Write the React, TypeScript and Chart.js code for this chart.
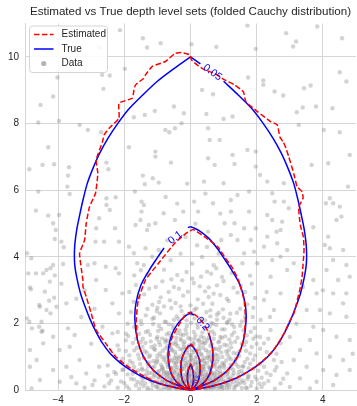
import { useEffect, useRef } from "react";
import { Chart, registerables } from "chart.js";

Chart.register(...registerables);

type Pt = [number, number];

const TITLE = "Estimated vs True depth level sets (folded Cauchy distribution)";
const X_RANGE: Pt = [-5, 5];
const Y_RANGE: Pt = [0, 11];
const xTickValues = [-4, -2, 0, 2, 4];
const yTickValues = [0, 2, 4, 6, 8, 10];

// True level sets: right half, from the origin up to the cusp (left half is its mirror image)
const trueLevel005: Pt[] = [
  [0, 0], [0.57, 0.11], [1.0, 0.22], [1.4, 0.38], [1.8, 0.6], [2.15, 0.85], [2.42, 1.1],
  [2.65, 1.4], [2.85, 1.75], [3.02, 2.1], [3.18, 2.5], [3.32, 2.9], [3.43, 3.35], [3.5, 3.8],
  [3.5, 4.3], [3.44, 4.8], [3.36, 5.2], [3.25, 5.7], [3.12, 6.2], [2.95, 6.65], [2.75, 7.1],
  [2.5, 7.55], [2.2, 8.0], [1.85, 8.45], [1.45, 8.85], [1.0, 9.27], [0.5, 9.65], [0.3, 9.79], [0, 10.0],
];
const trueLevel01: Pt[] = [
  [0, 0], [0.33, 0.13], [0.73, 0.31], [1.13, 0.61], [1.42, 1.01], [1.6, 1.5], [1.68, 2.1],
  [1.65, 2.6], [1.5, 3.15], [1.25, 3.6], [1.0, 3.98], [0.8, 4.27], [0.53, 4.58], [0.25, 4.8],
  [0.08, 4.88], [0, 4.91],
];
const trueLevel02: Pt[] = [
  [0, 0], [0.2, 0.08], [0.42, 0.25], [0.58, 0.5], [0.67, 0.9], [0.66, 1.3], [0.55, 1.71],
  [0.4, 1.98], [0.25, 2.15], [0.12, 2.26], [0, 2.31],
];
const trueLevel03: Pt[] = [
  [0, 0], [0.12, 0.1], [0.24, 0.3], [0.29, 0.6], [0.27, 0.9], [0.18, 1.15], [0.08, 1.3], [0, 1.36],
];
const trueLevel05: Pt[] = [
  [0, 0], [0.05, 0.1], [0.09, 0.3], [0.085, 0.5], [0.045, 0.68], [0, 0.76],
];

// Estimated level sets: closed outlines, right side first
const estLevel005: Pt[] = [
  [0, 0], [0.55, 0.1], [1.0, 0.23], [1.45, 0.4], [1.85, 0.63], [2.2, 0.9], [2.5, 1.2], [2.7, 1.5],
  [2.85, 1.75], [2.98, 2.05], [3.12, 2.3], [3.2, 2.6], [3.3, 3.0], [3.37, 3.4], [3.41, 3.9],
  [3.43, 4.2], [3.41, 4.6], [3.33, 4.9], [3.3, 5.1], [3.27, 5.5], [3.4, 5.76], [3.37, 5.96],
  [3.22, 6.11], [3.12, 6.5], [2.97, 7.0], [2.87, 7.3], [2.8, 7.45], [2.7, 7.6], [2.62, 7.96],
  [2.42, 8.06], [2.02, 8.36], [1.67, 8.66], [1.6, 8.95], [1.33, 9.16], [1.03, 9.31], [0.73, 9.5],
  [0.43, 9.61], [0.2, 9.76], [0.03, 9.91], [-0.02, 10.06], [-0.27, 10.13], [-0.47, 10.1],
  [-0.76, 9.86], [-1.16, 9.71], [-1.36, 9.46], [-1.41, 9.36], [-1.66, 9.16], [-1.71, 9.0],
  [-1.76, 8.76], [-2.16, 8.61], [-2.16, 8.16], [-2.46, 7.86], [-2.61, 7.66], [-2.66, 7.45],
  [-2.85, 6.91], [-2.8, 6.51], [-2.87, 5.91], [-3.05, 5.51], [-3.15, 5.01], [-3.2, 4.51],
  [-3.35, 4.11], [-3.3, 3.66], [-3.25, 3.3], [-3.25, 3.11], [-3.15, 2.81], [-3.0, 2.31],
  [-2.85, 1.81], [-2.56, 1.41], [-2.26, 1.01], [-1.8, 0.65], [-1.36, 0.4], [-0.9, 0.2],
  [-0.45, 0.08], [0, 0],
];
const estLevel01: Pt[] = [
  [0, 0], [0.33, 0.12], [0.73, 0.3], [1.12, 0.6], [1.42, 1.0], [1.6, 1.5], [1.66, 2.1],
  [1.62, 2.7], [1.45, 3.3], [1.25, 3.7], [1.03, 4.0], [0.83, 4.3], [0.43, 4.6], [0.08, 4.82],
  [-0.12, 4.72], [-0.47, 4.42], [-0.96, 3.82], [-1.36, 3.31], [-1.58, 2.7], [-1.64, 2.1],
  [-1.6, 1.5], [-1.42, 1.0], [-1.12, 0.6], [-0.73, 0.3], [-0.33, 0.12], [0, 0],
];
const estLevel02: Pt[] = [
  [0, 0], [0.2, 0.07], [0.43, 0.25], [0.6, 0.5], [0.68, 0.9], [0.66, 1.3], [0.56, 1.7],
  [0.4, 2.0], [0.22, 2.2], [0.05, 2.34], [-0.05, 2.33], [-0.2, 2.2], [-0.37, 1.93],
  [-0.55, 1.6], [-0.63, 1.3], [-0.66, 0.9], [-0.58, 0.5], [-0.42, 0.25], [-0.2, 0.08], [0, 0],
];
const estLevel03: Pt[] = [
  [0, 0], [0.12, 0.1], [0.24, 0.3], [0.3, 0.6], [0.28, 0.9], [0.18, 1.18], [0.03, 1.38],
  [-0.05, 1.36], [-0.18, 1.15], [-0.28, 0.9], [-0.3, 0.6], [-0.25, 0.3], [-0.12, 0.1], [0, 0],
];
const estLevel05: Pt[] = [
  [0, 0], [0.05, 0.1], [0.09, 0.3], [0.09, 0.52], [0.05, 0.7], [0.0, 0.8], [-0.05, 0.72],
  [-0.09, 0.52], [-0.09, 0.3], [-0.05, 0.1], [0, 0],
];

// Inline contour labels: text, position, rotation (deg), side of the true curve it sits on,
// and the y-span of that side left open behind the label
const contourLabels = [
  { text: "0.05", x: 0.66, y: 9.53, angle: 36, side: 1, gap: [9.27, 9.79], level: trueLevel005, size: 10.5 },
  { text: "0.1", x: -0.46, y: 4.58, angle: -38, side: -1, gap: [4.27, 4.88], level: trueLevel01, size: 10.5 },
  { text: "0.2", x: 0.37, y: 2.0, angle: 50, side: 1, gap: [1.71, 2.26], level: trueLevel02, size: 10.5 },
  { text: "0.5", x: 0.2, y: 0.33, angle: -65, side: 1, gap: null, level: trueLevel05, size: 6 },
];

// Sample points, upper region (y >= 6.5)
const dataUpper: Pt[] = [
  [-2.13, 10.8], [-1.44, 10.56], [-1.31, 10.28], [-0.9, 10.41], [-2.76, 10.28], [-4.02, 9.38],
  [-2.67, 9.46], [-2.44, 9.44], [-1.98, 9.64], [-2.63, 9.04], [-4.15, 8.81], [-4.53, 8.56],
  [-0.5, 8.51], [-0.2, 8.31], [-1.08, 8.38], [-1.38, 8.26], [-1.71, 8.19], [-4.6, 8.03],
  [-3.97, 8.08], [-3.35, 7.96], [-3.1, 7.81], [-0.76, 7.81], [-0.64, 7.74], [-0.47, 7.86],
  [-0.27, 8.01], [-2.7, 7.74], [1.72, 10.94], [2.89, 10.71], [3.83, 10.91], [4.58, 10.56],
  [3.1, 10.31], [3.19, 10.46], [1.97, 10.24], [0.78, 10.3], [0.03, 10.38], [1.74, 9.38],
  [2.2, 9.29], [2.2, 9.16], [0.35, 9.01], [0.68, 8.88], [2.54, 8.96], [2.8, 8.84], [3.43, 9.06],
  [3.63, 9.14], [4.51, 9.54], [4.71, 9.26], [3.39, 8.48], [3.79, 8.51], [4.29, 8.46],
  [3.21, 8.34], [0.48, 8.29], [1.27, 8.21], [1.0, 8.14], [3.27, 7.96], [4.03, 7.81], [4.51, 7.74],
  [0.53, 7.86], [0.58, 7.51], [0.88, 7.51], [-4.3, 7.29], [-1.86, 7.29], [-1.06, 7.16],
  [-1.06, 7.01], [-0.59, 6.83], [-4.47, 6.76], [-4.12, 6.78], [-4.87, 6.63], [-3.67, 6.69],
  [-2.54, 6.83], [-2.48, 6.63], [1.27, 7.06], [1.72, 7.21], [1.97, 7.16], [0.53, 6.96],
  [0.73, 6.76], [1.33, 6.79], [1.97, 6.71], [3.66, 6.76], [4.16, 6.81], [4.81, 7.06],
];

// Sample points, middle band (3.5 <= y < 6.5)
const dataMiddle: Pt[] = [
  [-3.7, 6.44], [-3.72, 6.11], [-1.44, 6.44], [-1.38, 6.18], [-1.14, 6.36], [-0.96, 6.23],
  [-1.68, 5.96], [-4.6, 5.96], [-3.65, 5.89], [-2.54, 5.76], [-2.26, 5.79], [-1.48, 5.66],
  [-1.41, 5.56], [-2.54, 5.56], [-4.67, 5.39], [-2.44, 5.41], [-1.48, 5.36], [-0.81, 5.31],
  [-3.97, 5.26], [-2.76, 5.16], [-1.51, 5.11], [-1.26, 4.96], [-0.47, 5.11], [-0.22, 5.36],
  [-4.15, 5.01], [-4.07, 4.81], [-2.85, 4.86], [-2.28, 4.86], [-1.66, 4.96], [-1.31, 4.81],
  [-1.06, 5.01], [-3.9, 4.46], [-3.83, 4.29], [-2.87, 4.46], [-2.61, 4.46], [-2.16, 4.46],
  [-1.86, 4.31], [-1.71, 4.11], [-4.94, 4.11], [-1.36, 4.26], [-1.16, 4.01], [-0.96, 4.21],
  [-4.81, 3.96], [-4.15, 3.76], [-3.85, 3.79], [-3.1, 3.76], [-2.9, 3.81], [-2.56, 3.71],
  [-2.26, 3.66], [-1.61, 3.81], [-1.41, 3.76], [-4.3, 5.24], [-4.1, 4.54], [-4.67, 3.51],
  [-4.45, 3.51], [-4.35, 3.61], [-4.23, 3.66], [2.1, 6.46], [2.32, 6.26], [2.82, 6.21],
  [4.76, 6.11], [4.21, 5.76], [4.09, 5.61], [4.31, 5.61], [4.51, 5.51], [4.56, 5.21],
  [0.41, 6.26], [1.0, 6.21], [1.42, 5.86], [1.22, 5.71], [0.11, 5.66], [0.68, 5.61],
  [1.77, 5.96], [2.47, 5.91], [2.54, 5.66], [2.82, 5.66], [2.97, 5.46], [2.32, 5.26],
  [2.47, 5.11], [2.77, 5.06], [1.77, 5.36], [1.97, 4.86], [2.32, 4.61], [2.6, 4.76],
  [2.72, 4.81], [3.71, 4.89], [4.41, 5.11], [4.16, 4.61], [0.23, 5.36], [1.22, 5.36],
  [1.03, 5.01], [1.33, 5.01], [1.62, 4.86], [0.53, 4.76], [1.22, 4.66], [1.42, 4.51],
  [1.82, 4.51], [2.22, 4.31], [2.62, 4.41], [2.92, 4.21], [1.92, 4.16], [1.62, 4.11],
  [0.93, 4.51], [1.57, 3.81], [2.02, 3.81], [2.47, 3.91], [2.72, 4.01], [3.12, 3.81],
  [4.06, 4.36], [4.21, 4.26], [4.61, 4.21], [4.31, 3.91], [4.71, 3.76], [-0.6, 3.9],
  [-0.3, 4.1], [0.05, 3.8], [0.35, 4.0], [0.7, 3.75], [0.2, 4.35], [-0.15, 4.6], [0.5, 4.3],
  [-0.7, 4.5], [0.85, 4.1], [0.15, 5.0], [-0.4, 5.6], [0.45, 5.9], [-0.1, 6.2], [0.9, 5.3],
  [-0.75, 5.8],
];

// Sample points, lower flanks (|x| > 2, y < 3.5)
const dataFlanks: Pt[] = [
  [-4.9, 3.51], [-4.4, 2.96], [-4.25, 3.26], [-4.1, 3.45], [-4.55, 2.51], [-4.05, 2.51],
  [-3.75, 2.61], [-4.95, 2.16], [-4.5, 1.76], [-4.15, 1.61], [-3.7, 1.86], [-3.5, 1.66],
  [-4.85, 1.21], [-4.45, 1.41], [-3.95, 1.21], [-3.65, 1.31], [-3.35, 0.91], [-4.65, 0.91],
  [-4.85, 0.71], [-4.15, 0.61], [-3.75, 0.71], [-3.15, 0.51], [-2.76, 0.71], [-4.55, 0.31],
  [-3.95, 0.26], [-3.45, 0.21], [-2.96, 0.16], [-2.46, 0.21], [-4.8, 0.06], [-2.85, 3.31],
  [-2.56, 3.01], [-2.36, 2.61], [-2.16, 2.31], [-2.66, 1.91], [-2.36, 1.71], [-2.06, 2.91],
  [-2.16, 3.51], [-2.16, 1.21], [-2.06, 0.61], [-4.85, 3.09], [-4.82, 3.03], [-4.12, 2.78],
  [-4.57, 2.56], [-4.27, 2.69], [-4.35, 2.41], [-4.23, 2.31], [-4.87, 2.06], [-4.5, 2.06],
  [-4.79, 1.86], [-4.57, 1.91], [-4.47, 1.79], [-3.3, 2.2], [-3.0, 1.4], [-3.6, 0.4],
  [-2.5, 0.45], [-3.2, 3.0], [-2.9, 2.45], [-3.45, 2.75], [-2.3, 1.05], [-3.9, 3.2],
  [4.11, 3.61], [4.46, 3.31], [4.81, 3.41], [4.31, 2.91], [4.61, 2.61], [3.91, 2.41],
  [4.21, 2.31], [4.71, 2.21], [3.71, 1.91], [4.01, 1.81], [4.41, 1.61], [4.81, 1.51],
  [3.61, 1.51], [3.31, 1.21], [3.81, 1.11], [4.21, 1.01], [4.61, 0.91], [3.12, 0.91],
  [3.51, 0.71], [4.01, 0.61], [4.41, 0.46], [2.92, 0.51], [3.31, 0.36], [3.81, 0.26],
  [4.31, 0.16], [2.72, 0.21], [3.61, 0.06], [3.71, 3.31], [3.81, 2.91], [3.51, 2.41],
  [4.71, 2.91], [2.92, 3.61], [2.42, 3.41], [2.72, 2.91], [2.22, 2.71], [2.52, 2.41],
  [2.12, 2.11], [2.42, 1.81], [2.22, 1.41], [2.72, 1.41], [2.52, 0.91], [2.22, 0.71],
  [2.42, 0.46], [2.22, 0.21], [4.81, 0.61], [3.2, 2.0], [3.0, 1.6], [4.9, 1.1], [3.4, 3.1],
  [4.0, 3.0], [-2.05, 0.95], [-1.95, 1.5], [-1.8, 0.35], [-1.62, 1.28], [-1.5, 0.2],
  [-2.2, 1.75], [-1.9, 0.75], [-1.45, 0.62], [-2.25, 0.5], [-1.7, 1.9], [1.75, 0.45],
  [1.85, 1.3], [2.1, 1.6], [2.3, 1.15], [2.15, 0.38], [1.98, 1.62], [2.4, 2.2], [2.6, 0.7],
  [1.88, 2.2], [2.3, 2.95],
];

// Sample points, dense core (|x| < 2.1, y < 3.7)
const dataCore: Pt[] = [
  [-1.92, 0.12], [-1.71, 0.33], [-1.55, 0.05], [-1.48, 0.41], [-1.37, 0.21], [-1.29, 0.08],
  [-1.22, 0.36], [-1.14, 0.15], [-1.08, 0.47], [-1.02, 0.27], [-0.97, 0.04], [-0.93, 0.38],
  [-0.88, 0.18], [-0.84, 0.31], [-0.79, 0.09], [-0.75, 0.44], [-0.71, 0.24], [-0.67, 0.13],
  [-0.63, 0.35], [-0.6, 0.02], [-0.56, 0.28], [-0.53, 0.46], [-0.5, 0.17], [-0.47, 0.07],
  [-0.44, 0.39], [-0.41, 0.22], [-0.38, 0.31], [-0.35, 0.11], [-0.32, 0.43], [-0.29, 0.19],
  [-0.26, 0.03], [-0.23, 0.34], [-0.2, 0.26], [-0.17, 0.14], [-0.14, 0.48], [-0.11, 0.06],
  [-0.08, 0.37], [-0.05, 0.21], [-0.02, 0.29], [0.01, 0.1], [0.04, 0.42], [0.07, 0.16],
  [0.1, 0.33], [0.13, 0.04], [0.16, 0.25], [0.19, 0.45], [0.22, 0.12], [0.25, 0.36],
  [0.28, 0.2], [0.31, 0.08], [0.34, 0.3], [0.37, 0.41], [0.4, 0.15], [0.43, 0.24],
  [0.46, 0.03], [0.49, 0.38], [0.52, 0.18], [0.55, 0.47], [0.58, 0.1], [0.61, 0.29],
  [0.64, 0.21], [0.67, 0.4], [0.7, 0.06], [0.73, 0.33], [0.77, 0.14], [0.8, 0.44],
  [0.84, 0.23], [0.88, 0.09], [0.92, 0.35], [0.96, 0.17], [1.0, 0.42], [1.05, 0.27],
  [1.1, 0.05], [1.15, 0.32], [1.21, 0.19], [1.27, 0.45], [1.33, 0.11], [1.4, 0.28],
  [1.47, 0.38], [1.55, 0.07], [1.63, 0.22], [1.72, 0.34], [1.82, 0.13], [1.95, 0.41],
  [2.08, 0.2], [-2.1, 0.27], [-0.9, 0.45], [0.3, 0.47], [-0.6, 0.16], [0.95, 0.02],
  [0.15, 0.19], [-0.36, 0.01], [0.58, 0.33], [-1.18, 0.02], [1.3, 0.26], [-0.1, 0.44],
  [0.72, 0.12], [-0.7, 0.4], [0.45, 0.09], [-0.25, 0.12], [1.12, 0.15], [-1.6, 0.25],
  [0.05, 0.3],
  [-2.02, 0.63], [-1.83, 0.88], [-1.66, 0.55], [-1.52, 0.79], [-1.41, 0.97], [-1.33, 0.6],
  [-1.24, 0.84], [-1.16, 0.52], [-1.09, 0.71], [-1.01, 0.93], [-0.95, 0.58], [-0.89, 0.77],
  [-0.83, 0.66], [-0.77, 0.99], [-0.72, 0.54], [-0.66, 0.83], [-0.61, 0.69], [-0.56, 0.91],
  [-0.51, 0.57], [-0.46, 0.75], [-0.42, 0.62], [-0.37, 0.86], [-0.33, 0.51], [-0.28, 0.73],
  [-0.24, 0.95], [-0.19, 0.64], [-0.15, 0.81], [-0.1, 0.56], [-0.06, 0.7], [-0.02, 0.89],
  [0.03, 0.6], [0.07, 0.78], [0.11, 0.53], [0.15, 0.96], [0.19, 0.67], [0.23, 0.84],
  [0.27, 0.58], [0.31, 0.74], [0.35, 0.92], [0.39, 0.63], [0.43, 0.8], [0.47, 0.55],
  [0.51, 0.98], [0.55, 0.71], [0.6, 0.6], [0.64, 0.87], [0.69, 0.52], [0.74, 0.76],
  [0.79, 0.65], [0.84, 0.94], [0.9, 0.57], [0.96, 0.82], [1.02, 0.68], [1.08, 0.9],
  [1.14, 0.54], [1.21, 0.77], [1.29, 0.62], [1.37, 0.95], [1.45, 0.71], [1.54, 0.58],
  [1.64, 0.85], [1.76, 0.66], [1.9, 0.92], [2.05, 0.59], [-0.8, 0.51], [0.2, 0.51],
  [-0.3, 0.61], [0.57, 0.93], [-1.05, 0.82], [0.88, 0.72], [-0.48, 0.97], [1.17, 0.99],
  [-0.12, 0.76], [0.41, 0.69], [-0.68, 0.7], [0.02, 0.95],
  [-1.95, 1.18], [-1.74, 1.42], [-1.58, 1.07], [-1.45, 1.31], [-1.32, 1.13], [-1.2, 1.47],
  [-1.1, 1.24], [-1.0, 1.04], [-0.92, 1.36], [-0.84, 1.19], [-0.76, 1.45], [-0.68, 1.09],
  [-0.6, 1.28], [-0.53, 1.41], [-0.46, 1.15], [-0.39, 1.33], [-0.32, 1.02], [-0.25, 1.22],
  [-0.18, 1.46], [-0.11, 1.12], [-0.04, 1.3], [0.03, 1.06], [0.1, 1.39], [0.17, 1.2],
  [0.24, 1.48], [0.31, 1.1], [0.38, 1.27], [0.45, 1.43], [0.52, 1.16], [0.6, 1.34],
  [0.68, 1.03], [0.76, 1.25], [0.84, 1.44], [0.93, 1.14], [1.02, 1.37], [1.12, 1.08],
  [1.23, 1.29], [1.35, 1.46], [1.48, 1.17], [1.62, 1.35], [1.8, 1.11], [2.0, 1.4],
  [-0.7, 1.49], [0.6, 1.02], [-0.14, 1.26], [0.9, 1.3], [-1.25, 1.0], [0.35, 1.45],
  [-0.45, 1.38], [1.15, 1.2], [0.05, 1.2],
  [-1.88, 1.63], [-1.62, 1.91], [-1.44, 1.55], [-1.28, 1.78], [-1.13, 1.99], [-1.0, 1.6],
  [-0.88, 1.84], [-0.76, 1.52], [-0.65, 1.72], [-0.54, 1.95], [-0.43, 1.58], [-0.33, 1.8],
  [-0.22, 1.66], [-0.11, 1.93], [0.0, 1.54], [0.1, 1.75], [0.21, 1.98], [0.32, 1.62],
  [0.43, 1.86], [0.54, 1.57], [0.66, 1.77], [0.78, 1.96], [0.9, 1.6], [1.03, 1.83],
  [1.17, 1.53], [1.32, 1.74], [1.5, 1.94], [1.7, 1.65], [1.93, 1.87], [-0.95, 1.93],
  [0.25, 1.52], [-0.3, 1.55], [0.7, 1.55], [1.25, 1.98], [-1.55, 1.7],
  [-1.8, 2.35], [-1.5, 2.08], [-1.3, 2.44], [-1.1, 2.18], [-0.92, 2.31], [-0.74, 2.05],
  [-0.58, 2.47], [-0.42, 2.22], [-0.27, 2.38], [-0.12, 2.1], [0.03, 2.29], [0.18, 2.46],
  [0.33, 2.14], [0.48, 2.35], [0.63, 2.02], [0.8, 2.27], [0.98, 2.43], [1.18, 2.12],
  [1.4, 2.33], [1.65, 2.2], [1.9, 2.48], [-0.5, 2.12], [0.6, 2.4], [-1.0, 2.48], [1.1, 2.02],
  [-1.72, 2.66], [-1.4, 2.88], [-1.15, 2.57], [-0.9, 2.79], [-0.66, 2.95], [-0.45, 2.62],
  [-0.22, 2.84], [0.0, 2.55], [0.22, 2.73], [0.44, 2.97], [0.66, 2.6], [0.9, 2.86],
  [1.15, 2.68], [1.42, 2.93], [1.72, 2.58], [-0.8, 2.52], [0.55, 2.8], [1.95, 2.77],
  [-1.65, 3.16], [-1.3, 3.48], [-1.05, 3.1], [-0.8, 3.62], [-0.58, 3.33], [-0.35, 3.05],
  [-0.12, 3.55], [0.1, 3.22], [0.32, 3.41], [0.55, 3.09], [0.78, 3.66], [1.0, 3.28],
  [1.25, 3.52], [1.52, 3.14], [1.8, 3.44], [-0.25, 3.3], [0.62, 3.5], [-1.5, 3.6],
];

// Further sample points in the densest part of the cloud
const dataCoreInner: Pt[] = [
  [-1.25, 0.52], [-1.19, 0.29], [-1.11, 0.41], [-1.04, 0.11], [-0.99, 0.55], [-0.94, 0.23],
  [-0.86, 0.03], [-0.81, 0.57], [-0.77, 0.27], [-0.73, 0.17], [-0.69, 0.51], [-0.65, 0.06],
  [-0.62, 0.44], [-0.58, 0.22], [-0.55, 0.12], [-0.52, 0.37], [-0.49, 0.54], [-0.45, 0.27],
  [-0.43, 0.05], [-0.4, 0.49], [-0.37, 0.17], [-0.34, 0.36], [-0.31, 0.25], [-0.28, 0.58],
  [-0.27, 0.09], [-0.24, 0.46], [-0.21, 0.18], [-0.18, 0.39], [-0.16, 0.02], [-0.13, 0.29],
  [-0.09, 0.52], [-0.07, 0.13], [-0.04, 0.41], [-0.01, 0.02], [0.02, 0.49], [0.06, 0.24],
  [0.09, 0.05], [0.12, 0.38], [0.14, 0.56], [0.18, 0.09], [0.21, 0.3], [0.24, 0.17],
  [0.27, 0.53], [0.3, 0.26], [0.33, 0.13], [0.36, 0.5], [0.39, 0.34], [0.42, 0.07],
  [0.45, 0.44], [0.48, 0.22], [0.51, 0.31], [0.54, 0.02], [0.57, 0.41], [0.6, 0.18],
  [0.63, 0.52], [0.66, 0.11], [0.69, 0.27], [0.72, 0.47], [0.75, 0.2], [0.78, 0.36],
  [0.82, 0.04], [0.86, 0.31], [0.9, 0.5], [0.94, 0.11], [0.98, 0.29], [1.03, 0.53],
  [1.08, 0.17], [1.13, 0.4], [1.18, 0.08], [1.24, 0.33], [1.31, 0.52], [1.38, 0.15],
  [1.45, 0.46], [1.52, 0.24], [-1.42, 0.12], [-1.33, 0.47], [1.6, 0.5], [1.68, 0.09],
  [-1.75, 0.5], [2.0, 0.06],
  [-1.55, 0.95], [-1.47, 0.66], [-1.38, 1.18], [-1.3, 0.81], [-1.22, 1.05], [-1.15, 0.69],
  [-1.07, 1.22], [-1.0, 0.86], [-0.93, 1.11], [-0.87, 0.63], [-0.81, 0.92], [-0.75, 1.26],
  [-0.7, 0.78], [-0.64, 1.04], [-0.59, 0.65], [-0.55, 1.19], [-0.5, 0.84], [-0.45, 1.07],
  [-0.41, 0.7], [-0.36, 0.97], [-0.32, 1.24], [-0.27, 0.85], [-0.23, 1.09], [-0.19, 0.72],
  [-0.14, 0.99], [-0.1, 1.2], [-0.06, 0.84], [-0.02, 1.06], [0.02, 0.68], [0.06, 0.9],
  [0.1, 1.15], [0.14, 0.79], [0.18, 1.02], [0.22, 0.65], [0.26, 1.25], [0.3, 0.88],
  [0.34, 1.06], [0.38, 0.73], [0.42, 0.97], [0.46, 1.21], [0.5, 0.82], [0.54, 1.04],
  [0.58, 0.66], [0.62, 1.15], [0.66, 0.91], [0.7, 0.74], [0.75, 1.08], [0.8, 0.86],
  [0.85, 1.22], [0.9, 0.69], [0.96, 1.0], [1.02, 0.8], [1.08, 1.17], [1.15, 0.64],
  [1.22, 0.93], [1.3, 1.12], [1.38, 0.78], [1.47, 1.03], [1.57, 0.72], [1.68, 1.19],
  [1.8, 0.8], [-1.7, 0.7], [-1.85, 1.05], [1.95, 1.05], [-0.05, 0.62], [0.35, 0.61],
  [-0.62, 0.9], [0.73, 0.95], [-0.2, 1.3], [0.15, 0.85],
  [-1.65, 1.55], [-1.48, 1.98], [-1.36, 1.42], [-1.22, 1.67], [-1.08, 1.35], [-0.98, 1.78],
  [-0.86, 1.56], [-0.78, 2.06], [-0.7, 1.33], [-0.6, 1.61], [-0.52, 1.86], [-0.44, 1.46],
  [-0.37, 2.14], [-0.29, 1.68], [-0.21, 1.39], [-0.15, 1.82], [-0.07, 1.57], [0.02, 2.02],
  [0.08, 1.42], [0.15, 1.65], [0.22, 1.88], [0.28, 1.36], [0.36, 1.74], [0.44, 2.1],
  [0.5, 1.5], [0.58, 1.91], [0.64, 1.4], [0.72, 1.69], [0.8, 2.12], [0.87, 1.47],
  [0.95, 1.83], [1.05, 1.62], [1.12, 2.05], [1.22, 1.42], [1.32, 1.9], [1.42, 1.58],
  [1.55, 2.07], [1.68, 1.45], [1.82, 1.76], [-1.9, 2.0], [-0.4, 1.72], [0.4, 1.58],
  [-0.05, 1.35], [1.0, 2.18], [-1.15, 2.15], [0.12, 2.16], [-0.65, 1.98], [0.68, 2.0],
  [-0.95, 1.45], [1.6, 1.8],
  [-1.55, 2.78], [-1.25, 3.05], [-1.02, 2.38], [-0.85, 3.27], [-0.62, 2.7], [-0.4, 3.46],
  [-0.3, 2.52], [-0.08, 2.96], [0.12, 2.42], [0.28, 3.12], [0.38, 2.6], [0.5, 3.56],
  [0.7, 2.9], [0.85, 2.33], [0.95, 3.4], [1.1, 2.75], [1.3, 3.08], [1.5, 2.45], [1.65, 2.95],
  [1.85, 3.2], [-1.85, 2.95], [-1.7, 3.45], [-0.95, 2.65], [-0.5, 3.1], [0.05, 3.35],
  [0.8, 3.15], [1.2, 2.3], [-0.18, 2.25], [0.6, 2.22], [-1.35, 2.25],
];

// Sample points along the base of the cloud (y < 1.8)
const dataBase: Pt[] = [
  [-2.6, 0.12], [-2.4, 0.3], [-2.2, 0.08], [-2.0, 0.22], [-1.85, 0.04], [-1.65, 0.15],
  [-1.45, 0.3], [-1.3, 0.02], [-1.15, 0.24], [-1.0, 0.13], [-0.85, 0.26], [-0.72, 0.05],
  [-0.58, 0.31], [-0.46, 0.14], [-0.33, 0.22], [-0.22, 0.06], [-0.12, 0.27], [-0.03, 0.15],
  [0.08, 0.22], [0.18, 0.33], [0.26, 0.05], [0.35, 0.19], [0.44, 0.31], [0.53, 0.12],
  [0.62, 0.04], [0.7, 0.22], [0.8, 0.3], [0.9, 0.13], [1.0, 0.07], [1.1, 0.24], [1.2, 0.35],
  [1.32, 0.03], [1.45, 0.18], [1.58, 0.3], [1.7, 0.06], [1.85, 0.25], [2.0, 0.33], [2.15, 0.1],
  [2.35, 0.28], [2.55, 0.05], [2.8, 0.35], [3.0, 0.1], [-2.9, 0.3], [-3.2, 0.08],
  [-2.5, 0.75], [-2.3, 0.55], [-2.1, 0.85], [-1.9, 0.48], [-1.75, 0.82], [-1.58, 0.6],
  [-1.4, 0.44], [-1.27, 0.72], [-1.12, 0.88], [-0.98, 0.4], [-0.86, 0.7], [-0.74, 0.86],
  [-0.64, 0.52], [-0.54, 0.67], [-0.44, 0.83], [-0.35, 0.45], [-0.26, 0.64], [-0.16, 0.9],
  [-0.07, 0.48], [0.04, 0.72], [0.13, 0.42], [0.22, 0.77], [0.32, 0.55], [0.41, 0.88],
  [0.5, 0.46], [0.6, 0.68], [0.7, 0.84], [0.8, 0.55], [0.9, 0.42], [1.0, 0.75], [1.1, 0.5],
  [1.22, 0.68], [1.34, 0.87], [1.46, 0.56], [1.6, 0.72], [1.75, 0.4], [1.9, 0.65], [2.1, 0.8],
  [2.3, 0.52], [2.55, 0.6], [2.75, 0.85],
  [-2.2, 1.35], [-1.95, 1.7], [-1.7, 1.2], [-1.5, 1.45], [-1.35, 1.75], [-1.18, 1.3],
  [-1.02, 1.55], [-0.88, 1.02], [-0.72, 1.68], [-0.57, 1.22], [-0.42, 0.95], [-0.28, 1.5],
  [-0.12, 1.7], [0.0, 1.0], [0.12, 1.55], [0.26, 1.18], [0.4, 1.4], [0.55, 1.75], [0.7, 1.25],
  [0.82, 1.05], [0.95, 1.58], [1.1, 1.35], [1.25, 1.66], [1.4, 1.1], [1.55, 1.4], [1.72, 0.95],
  [1.9, 1.55], [2.1, 1.25], [2.35, 1.55], [2.6, 1.1],
];

const TEXT_FONT = "'Liberation Sans', Arial, sans-serif";
const TEXT_COLOR = "#262626";
const GRID_COLOR = "#d6d6d6";
const TRUE_COLOR = "#0000ff";
const EST_COLOR = "#ff0000";
const POINT_COLOR = "rgba(128,128,128,0.35)";
const DASH = [5.5, 2.4];

const toXY = (pts: (Pt | null)[]) =>
  pts.map((p) => (p ? { x: p[0], y: p[1] } : { x: 0, y: null as unknown as number }));

const mirrorHalf = (pts: Pt[]): Pt[] => pts.map(([x, y]) => [-x, y] as Pt);

// Leave an opening in a half-curve where an inline label sits
const openGap = (pts: Pt[], gap: number[] | null): (Pt | null)[] => {
  if (!gap) return pts;
  const out: (Pt | null)[] = [];
  let opened = false;
  for (const p of pts) {
    if (p[1] > gap[0] + 1e-9 && p[1] < gap[1] - 1e-9) {
      if (!opened) {
        out.push(null);
        opened = true;
      }
    } else out.push(p);
  }
  return out;
};

const fmtTick = (v: number) => (v < 0 ? "\u2212" + Math.abs(v) : String(v));

const trueLevels = [trueLevel005, trueLevel01, trueLevel02, trueLevel03, trueLevel05];
const estLevels = [estLevel005, estLevel01, estLevel02, estLevel03, estLevel05];

const titlePlugin = {
  id: "plotTitle",
  afterDraw(chart: any) {
    const { ctx, chartArea } = chart;
    ctx.save();
    ctx.fillStyle = TEXT_COLOR;
    ctx.font = `11.6px ${TEXT_FONT}`;
    ctx.textAlign = "center";
    ctx.textBaseline = "middle";
    ctx.fillText(TITLE, (chartArea.left + chartArea.right) / 2, 12);
    ctx.restore();
  },
};

const contourLabelPlugin = {
  id: "contourLabels",
  afterDatasetsDraw(chart: any) {
    const { ctx, scales } = chart;
    ctx.save();
    ctx.fillStyle = TRUE_COLOR;
    ctx.textAlign = "center";
    ctx.textBaseline = "middle";
    for (const lab of contourLabels) {
      const px = scales.x.getPixelForValue(lab.x);
      const py = scales.y.getPixelForValue(lab.y);
      ctx.save();
      ctx.translate(px, py);
      ctx.rotate((lab.angle * Math.PI) / 180);
      ctx.font = `${lab.size}px ${TEXT_FONT}`;
      ctx.fillText(lab.text, 0, 0);
      ctx.restore();
    }
    ctx.restore();
  },
};

const legendPlugin = {
  id: "boxLegend",
  afterDraw(chart: any) {
    const { ctx, chartArea } = chart;
    const bx = chartArea.left + 4.5;
    const by = chartArea.top + 2.5;
    const bw = 78;
    const bh = 46.5;
    ctx.save();
    ctx.beginPath();
    ctx.roundRect(bx, by, bw, bh, 3);
    ctx.fillStyle = "rgba(255,255,255,0.85)";
    ctx.fill();
    ctx.strokeStyle = "#d4d4d4";
    ctx.lineWidth = 1;
    ctx.stroke();

    const x0 = bx + 4.5;
    const x1 = bx + 24;
    const tx = bx + 32;
    const rows = [by + 8.5, by + 23, by + 37.5];
    ctx.font = `10px ${TEXT_FONT}`;
    ctx.textBaseline = "middle";
    ctx.fillStyle = TEXT_COLOR;

    ctx.lineWidth = 1.5;
    ctx.strokeStyle = EST_COLOR;
    ctx.setLineDash(DASH);
    ctx.beginPath();
    ctx.moveTo(x0, rows[0]);
    ctx.lineTo(x1, rows[0]);
    ctx.stroke();
    ctx.setLineDash([]);
    ctx.fillText("Estimated", tx, rows[0]);

    ctx.strokeStyle = TRUE_COLOR;
    ctx.beginPath();
    ctx.moveTo(x0, rows[1]);
    ctx.lineTo(x1, rows[1]);
    ctx.stroke();
    ctx.fillText("True", tx, rows[1]);

    ctx.fillStyle = "rgba(128,128,128,0.6)";
    ctx.beginPath();
    ctx.arc((x0 + x1) / 2, rows[2], 2.6, 0, Math.PI * 2);
    ctx.fill();
    ctx.fillStyle = TEXT_COLOR;
    ctx.fillText("Data", tx, rows[2]);
    ctx.restore();
  },
};

export default function App() {
  const canvasRef = useRef<HTMLCanvasElement | null>(null);

  useEffect(() => {
    if (!canvasRef.current) return;

    const datasets: any[] = [];

    datasets.push({
      label: "Data",
      data: toXY([
        ...dataUpper, ...dataMiddle, ...dataFlanks, ...dataCore, ...dataCoreInner, ...dataBase,
      ]),
      showLine: false,
      pointRadius: 2.2,
      pointBorderWidth: 0,
      pointBackgroundColor: POINT_COLOR,
      order: 2,
    });

    trueLevels.forEach((half) => {
      const lab = contourLabels.find((l) => l.level === half);
      const right = openGap(half, lab && lab.side === 1 ? lab.gap : null);
      const left = openGap(mirrorHalf(half), lab && lab.side === -1 ? lab.gap : null);
      for (const side of [right, left]) {
        datasets.push({
          label: "True",
          data: toXY(side),
          showLine: true,
          borderColor: TRUE_COLOR,
          borderWidth: 1.5,
          pointRadius: 0,
          tension: 0.3,
          spanGaps: false,
          order: 1,
        });
      }
    });

    estLevels.forEach((loop) => {
      datasets.push({
        label: "Estimated",
        data: toXY(loop),
        showLine: true,
        borderColor: EST_COLOR,
        borderWidth: 1.5,
        borderDash: DASH,
        pointRadius: 0,
        tension: 0.15,
        order: 0,
      });
    });

    const chart = new Chart(canvasRef.current, {
      type: "scatter",
      data: { datasets },
      options: {
        animation: false,
        responsive: false,
        devicePixelRatio: 1,
        events: [],
        layout: { padding: { top: 23.5, right: 0, left: 0, bottom: 0 } },
        plugins: {
          legend: { display: false },
          tooltip: { enabled: false },
          title: { display: false },
        },
        scales: {
          x: {
            type: "linear",
            min: X_RANGE[0],
            max: X_RANGE[1],
            afterBuildTicks: (s: any) => {
              s.ticks = xTickValues.map((v) => ({ value: v }));
            },
            afterFit: (s: any) => {
              s.height = 15.6;
            },
            grid: { color: GRID_COLOR, lineWidth: 1, drawTicks: false },
            border: { display: true, color: GRID_COLOR, width: 1 },
            ticks: {
              padding: 4,
              color: TEXT_COLOR,
              font: { family: TEXT_FONT, size: 10 },
              autoSkip: false,
              maxRotation: 0,
              callback: (v: any) => fmtTick(Number(v)),
            },
          },
          y: {
            type: "linear",
            min: Y_RANGE[0],
            max: Y_RANGE[1],
            afterBuildTicks: (s: any) => {
              s.ticks = yTickValues.map((v) => ({ value: v }));
            },
            afterFit: (s: any) => {
              s.width = 25;
            },
            grid: { color: GRID_COLOR, lineWidth: 1, drawTicks: false },
            border: { display: true, color: GRID_COLOR, width: 1 },
            ticks: {
              padding: 6,
              color: TEXT_COLOR,
              font: { family: TEXT_FONT, size: 10 },
              autoSkip: false,
              callback: (v: any) => fmtTick(Number(v)),
            },
          },
        },
      },
      plugins: [titlePlugin, contourLabelPlugin, legendPlugin],
    });

    return () => chart.destroy();
  }, []);

  return (
    <div
      style={{
        position: "fixed",
        left: 0,
        top: 0,
        width: 357,
        height: 406,
        overflow: "hidden",
        background: "#ffffff",
      }}
    >
      <canvas ref={canvasRef} width={360} height={406} style={{ display: "block", width: 360, height: 406 }} />
    </div>
  );
}
